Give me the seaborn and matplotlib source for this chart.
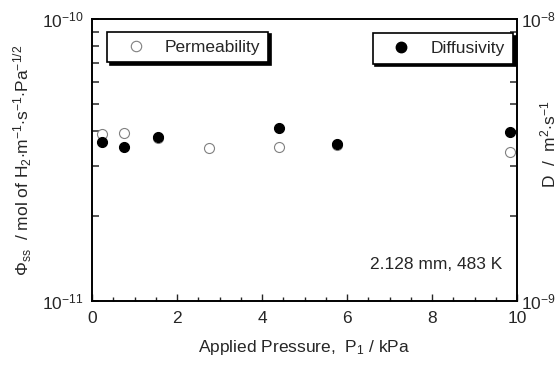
import numpy as np
import pandas as pd
import matplotlib
matplotlib.use("Agg")
import matplotlib.pyplot as plt
from matplotlib.lines import Line2D
from matplotlib.ticker import MultipleLocator, NullFormatter, NullLocator, FixedLocator, FixedFormatter
import seaborn as sns

# Steady-state permeability and diffusivity vs applied pressure
pressure_perm = [0.23, 0.76, 1.56, 2.76, 4.39, 5.76, 9.84]
permeability = [3.91e-11, 3.94e-11, 3.78e-11, 3.48e-11, 3.51e-11, 3.56e-11, 3.38e-11]
pressure_diff = [0.23, 0.76, 1.56, 4.39, 5.76, 9.84]
diffusivity = [3.65e-9, 3.51e-9, 3.81e-9, 4.10e-9, 3.59e-9, 3.96e-9]

x_ticks = [0, 2, 4, 6, 8, 10]
left_tick_labels = ["$10^{-11}$", "$10^{-10}$"]
right_tick_labels = ["$10^{-9}$", "$10^{-8}$"]

sns.set_style("ticks")
plt.rcParams["font.family"] = ["Liberation Sans", "DejaVu Sans"]
plt.rcParams["mathtext.fontset"] = "custom"
plt.rcParams["mathtext.rm"] = "Liberation Sans"
plt.rcParams["mathtext.it"] = "Liberation Sans:italic"
plt.rcParams["mathtext.bf"] = "Liberation Sans:bold"

FS = 12.5

perm_df = pd.DataFrame({"P": pressure_perm, "phi": permeability})
diff_df = pd.DataFrame({"P": pressure_diff, "D": diffusivity})

fig = plt.figure(figsize=(5.57, 3.67), dpi=100)
ax = fig.add_axes([92 / 557, 1 - 301 / 367, 425 / 557, 282 / 367])
ax2 = ax.twinx()

sns.scatterplot(data=perm_df, x="P", y="phi", ax=ax, marker="o", s=52,
                facecolor="white", edgecolor="#808080", linewidth=0.8, zorder=3)
sns.scatterplot(data=diff_df, x="P", y="D", ax=ax2, marker="o", s=52,
                color="black", edgecolor="black", linewidth=0.8, zorder=3)

ax.set_yscale("log")
ax2.set_yscale("log")
ax.set_xlim(0, 10)
ax.set_ylim(1e-11, 1e-10)
ax2.set_ylim(1e-9, 1e-8)

for a in (ax, ax2):
    for s in a.spines.values():
        s.set_linewidth(1.2)
        s.set_color("black")

ax.xaxis.set_major_locator(FixedLocator(x_ticks))
ax.xaxis.set_minor_locator(MultipleLocator(0.5))
ax.set_xticklabels([str(t) for t in x_ticks])


def decade_ticks(axis, base, labels):
    """Tick every 1..10 multiple of one decade; label only its two ends."""
    mult = np.arange(1, 11)
    locs = mult * base
    texts = [labels[0]] + [""] * 8 + [labels[1]]
    axis.set_major_locator(FixedLocator(locs))
    axis.set_major_formatter(FixedFormatter(texts))
    axis.set_minor_locator(NullLocator())
    axis.set_minor_formatter(NullFormatter())


decade_ticks(ax.yaxis, 1e-11, left_tick_labels)
decade_ticks(ax2.yaxis, 1e-9, right_tick_labels)

ax.tick_params(axis="x", which="both", direction="in", top=False, labelsize=FS, pad=7, width=1)
ax.tick_params(axis="x", which="major", length=5)
ax.tick_params(axis="x", which="minor", length=3)
ax.tick_params(axis="y", which="major", direction="in", left=True, right=False,
               labelsize=FS, width=1.1, length=5, pad=6)
ax2.tick_params(axis="y", which="major", direction="in", right=True, left=False,
                labelsize=FS, width=1.1, length=5, pad=3)

ax.set_xlabel("Applied Pressure,  P$_1$ / kPa", fontsize=FS, labelpad=9)
ax.set_ylabel(r"$\Phi_{\rm ss}$  / mol of H$_2$$\cdot$m$^{-1}$$\cdot$s$^{-1}$$\cdot$Pa$^{-1/2}$",
              fontsize=FS, labelpad=6)
ax2.set_ylabel("")
fig.text(538 / 557, 1 - 144 / 367, "D  /  m$^2$$\\cdot$s$^{-1}$", rotation=90,
         ha="left", va="center", fontsize=FS)

ax.text(0.965, 0.128, "2.128 mm, 483 K", transform=ax.transAxes,
        ha="right", va="center", fontsize=FS)

shadow_style = {"facecolor": "black", "edgecolor": "black", "alpha": 1.0}
h_perm = Line2D([], [], linestyle="none", marker="o", markersize=7.5,
                markerfacecolor="white", markeredgecolor="#808080", markeredgewidth=0.8)
h_diff = Line2D([], [], linestyle="none", marker="o", markersize=7.5,
                markerfacecolor="black", markeredgecolor="black")
leg1 = ax2.legend([h_perm], ["Permeability"], loc="upper left",
                  bbox_to_anchor=(0.035, 0.955), borderaxespad=0, fontsize=FS,
                  frameon=True, fancybox=False, shadow=shadow_style, framealpha=1,
                  edgecolor="black", handlelength=2.4, handletextpad=0.5,
                  borderpad=0.45)
leg1.get_frame().set_linewidth(1.2)
ax2.add_artist(leg1)
leg2 = ax2.legend([h_diff], ["Diffusivity"], loc="upper right",
                  bbox_to_anchor=(0.99, 0.951), borderaxespad=0, fontsize=FS,
                  frameon=True, fancybox=False, shadow=shadow_style, framealpha=1,
                  edgecolor="black", handlelength=2.4, handletextpad=0.5,
                  borderpad=0.45)
leg2.get_frame().set_linewidth(1.2)

fig.savefig("out.png", dpi=100)
